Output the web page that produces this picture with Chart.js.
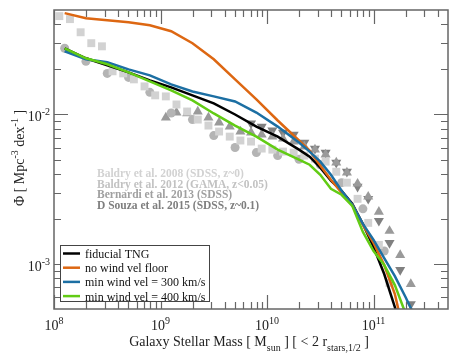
<!DOCTYPE html>
<html>
<head>
<meta charset="utf-8">
<script src="https://cdn.jsdelivr.net/npm/chart.js@4/dist/chart.umd.min.js"></script>
<style>
html, body { margin: 0; padding: 0; background: #fff; }
</style>
</head>
<body>
<canvas id="myChart" width="458" height="354"></canvas>
<script>
// simulation curves: log10 stellar mass, log10 phi
const logMassLines = [8.1, 8.3, 8.5, 8.7, 8.9, 9.1, 9.3, 9.5, 9.7, 9.9, 10.1, 10.3, 10.4, 10.5, 10.6, 10.7, 10.8, 10.9, 11.0, 11.1, 11.2, 11.3, 11.4];
const fiducialTNG = [-1.557, -1.624, -1.671, -1.718, -1.772, -1.819, -1.872, -1.926, -2.0, -2.081, -2.148, -2.235, -2.282, -2.356, -2.443, -2.510, -2.597, -2.732, -2.886, -3.067, -3.289, -3.51, -3.8];
const noWindFloor = [-1.322, -1.356, -1.369, -1.383, -1.403, -1.443, -1.523, -1.631, -1.765, -1.899, -2.040, -2.174, -2.242, -2.342, -2.436, -2.523, -2.604, -2.738, -2.859, -3.007, -3.201, -3.51, -3.8];
const minWind300 = [-1.577, -1.631, -1.651, -1.698, -1.738, -1.799, -1.846, -1.879, -1.913, -1.987, -2.081, -2.188, -2.248, -2.315, -2.403, -2.510, -2.604, -2.732, -2.839, -2.960, -3.081, -3.221, -3.37];
const minWind400 = [-1.557, -1.624, -1.664, -1.718, -1.779, -1.839, -1.906, -1.993, -2.074, -2.148, -2.235, -2.302, -2.336, -2.403, -2.497, -2.537, -2.611, -2.785, -2.913, -3.007, -3.141, -3.33, -3.55];

// observations
const baldry08Mass = [8.05, 8.15, 8.25, 8.35, 8.45, 8.55, 8.65, 8.75, 8.85, 8.95, 9.05, 9.15, 9.25, 9.35, 9.45, 9.55, 9.65, 9.75, 9.85, 9.95, 10.05, 10.15, 10.25, 10.35, 10.45, 10.55, 10.65, 10.75, 10.85, 10.95, 11.05, 11.15];
const baldry08Phi = [-1.342, -1.362, -1.450, -1.523, -1.544, -1.711, -1.725, -1.765, -1.812, -1.872, -1.879, -1.933, -1.98, -2.034, -2.074, -2.114, -2.148, -2.174, -2.181, -2.228, -2.235, -2.248, -2.255, -2.275, -2.295, -2.315, -2.383, -2.456, -2.564, -2.725, -2.872, -3.128];
const baldry12Mass = [8.1, 8.3, 8.5, 8.7, 8.9, 9.1, 9.3, 9.5, 9.7, 9.9, 10.1, 10.3, 10.5, 10.7, 10.9, 11.1];
const baldry12Phi = [-1.557, -1.644, -1.725, -1.752, -1.852, -1.99, -2.034, -2.141, -2.221, -2.255, -2.275, -2.30, -2.336, -2.456, -2.631, -2.913];
const bernardiMass = [9.05, 9.15, 9.25, 9.35, 9.45, 9.55, 9.65, 9.75, 9.85, 9.95, 10.05, 10.15, 10.25, 10.35, 10.45, 10.55, 10.65, 10.75, 10.85, 10.95, 11.05, 11.15, 11.25, 11.35];
const bernardiPhi = [-2.020, -1.987, -1.993, -1.980, -2.020, -2.054, -2.081, -2.114, -2.121, -2.134, -2.148, -2.161, -2.181, -2.215, -2.235, -2.268, -2.322, -2.389, -2.463, -2.550, -2.651, -2.779, -2.940, -3.134];
const dsouzaMass = [9.85, 9.95, 10.05, 10.15, 10.25, 10.35, 10.45, 10.55, 10.65, 10.75, 10.85, 10.95, 11.05, 11.15, 11.25, 11.35];
const dsouzaPhi = [-2.060, -2.081, -2.107, -2.121, -2.134, -2.188, -2.228, -2.255, -2.322, -2.383, -2.483, -2.564, -2.711, -2.859, -3.040, -3.268];

const obsLabels = ['Baldry et al. 2008 (SDSS, z~0)', 'Baldry et al. 2012 (GAMA, z<0.05)', 'Bernardi et al. 2013 (SDSS)', 'D Souza et al. 2015 (SDSS, z~0.1)'];
const obsColors = ['#d2d2d2', '#c2c2c2', '#a0a0a0', '#7e7e7e'];

const xTickExps = [8, 9, 10, 11];
const yTickExps = [-3, -2];

const SERIF = '"Liberation Serif", "DejaVu Serif", serif';

function pts(logx, logy) {
    return logx.map((v, i) => ({x: Math.pow(10, v), y: Math.pow(10, logy[i])}));
}

function lineSet(label, data, color) {
    return {
        label: label, data: pts(logMassLines, data), showLine: true,
        borderColor: color, backgroundColor: color, borderWidth: 2.5,
        pointRadius: 0, order: 1
    };
}

function markerSet(label, mx, my, color, style, r, rot) {
    return {
        label: label, data: pts(mx, my), showLine: false,
        pointStyle: style, pointRadius: r, pointRotation: rot || 0,
        backgroundColor: color, borderColor: color, borderWidth: 0,
        order: 2, isObs: true
    };
}

// text with superscripts / subscripts: parts = [[text, mode]], mode 1 sup, -1 sub
function richWidth(ctx, parts, size, small) {
    let w = 0;
    for (const p of parts) {
        ctx.font = (p[1] ? small : size) + 'px ' + SERIF;
        w += ctx.measureText(p[0]).width;
    }
    return w;
}
function drawRich(ctx, parts, x, y, size, small, up, down) {
    for (const p of parts) {
        ctx.font = (p[1] ? small : size) + 'px ' + SERIF;
        let dy = p[1] === 1 ? -up : (p[1] === -1 ? down : 0);
        ctx.fillText(p[0], x, y + dy);
        x += ctx.measureText(p[0]).width;
    }
}

const framePlugin = {
    id: 'frame',
    afterDraw(chart) {
        const ctx = chart.ctx;
        const a = chart.chartArea;
        const xs = chart.scales.x, ys = chart.scales.y;
        ctx.save();
        ctx.strokeStyle = '#666';
        ctx.lineWidth = 1.5;
        ctx.strokeRect(a.left, a.top, a.right - a.left, a.bottom - a.top);
        ctx.lineWidth = 1.2;
        ctx.beginPath();
        for (let d = 8; d <= 11; d++) {
            for (let m = 1; m <= 9; m++) {
                const v = m * Math.pow(10, d);
                if (v >= xs.max) break;
                const px = Math.round(xs.getPixelForValue(v)) + 0.5;
                const len = m === 1 ? 14 : 7;
                ctx.moveTo(px, a.bottom); ctx.lineTo(px, a.bottom - len);
                ctx.moveTo(px, a.top); ctx.lineTo(px, a.top + len);
            }
        }
        for (let d = -4; d <= -2; d++) {
            for (let m = 1; m <= 9; m++) {
                const v = m * Math.pow(10, d);
                if (v <= ys.min || v >= ys.max) continue;
                const py = Math.round(ys.getPixelForValue(v)) + 0.5;
                const len = m === 1 ? 14 : 7;
                ctx.moveTo(a.left, py); ctx.lineTo(a.left + len, py);
                ctx.moveTo(a.right, py); ctx.lineTo(a.right - len, py);
            }
        }
        ctx.stroke();

        // tick labels
        ctx.fillStyle = '#222';
        ctx.textAlign = 'left';
        ctx.textBaseline = 'alphabetic';
        for (const e of xTickExps) {
            const parts = [['10', 0], [String(e), 1]];
            const w = richWidth(ctx, parts, 14, 10);
            const px = xs.getPixelForValue(Math.pow(10, e));
            drawRich(ctx, parts, px - w / 2, 330, 14, 10, 6, 0);
        }
        for (const e of yTickExps) {
            const parts = [['10', 0], [String(e), 1]];
            const w = richWidth(ctx, parts, 14, 10);
            const py = ys.getPixelForValue(Math.pow(10, e));
            drawRich(ctx, parts, 50 - w, py + 7, 14, 10, 6, 0);
        }

        // axis titles
        const xt = [['Galaxy Stellar Mass [ M', 0], ['sun', -1], [' ] [ < 2 r', 0], ['stars,1/2', -1], [' ]', 0]];
        const xw = richWidth(ctx, xt, 14, 10);
        drawRich(ctx, xt, 249 - xw / 2, 346, 14, 10, 6, 5);
        const yt = [['\u03A6 [ Mpc', 0], ['-3', 1], [' dex', 0], ['-1', 1], [' ]', 0]];
        const yw = richWidth(ctx, yt, 14, 10);
        ctx.save();
        ctx.translate(24, 158);
        ctx.rotate(-Math.PI / 2);
        drawRich(ctx, yt, -yw / 2, 0, 14, 10, 6, 0);
        ctx.restore();

        // observation labels
        ctx.font = 'bold 11.5px ' + SERIF;
        obsLabels.forEach((t, i) => {
            ctx.fillStyle = obsColors[i];
            ctx.fillText(t, 97, 177 + i * 10.6);
        });

        // legend
        const lx = 60.5, ly = 245.5, lw = 149, lh = 56;
        ctx.fillStyle = '#fff';
        ctx.fillRect(lx, ly, lw, lh);
        ctx.strokeStyle = '#444';
        ctx.lineWidth = 1;
        ctx.strokeRect(lx, ly, lw, lh);
        ctx.font = '12px ' + SERIF;
        const lines = chart.data.datasets.filter(ds => !ds.isObs);
        lines.forEach((ds, i) => {
            const yy = 253.5 + i * 14.2;
            ctx.strokeStyle = ds.borderColor;
            ctx.lineWidth = 2.5;
            ctx.beginPath();
            ctx.moveTo(63, yy); ctx.lineTo(80, yy);
            ctx.stroke();
            ctx.fillStyle = '#111';
            ctx.fillText(ds.label, 85, yy + 4.5);
        });
        ctx.restore();
    }
};

const config = {
    type: 'scatter',
    data: {
        datasets: [
            lineSet('fiducial TNG', fiducialTNG, '#000000'),
            lineSet('no wind vel floor', noWindFloor, '#dd6712'),
            lineSet('min wind vel = 300 km/s', minWind300, '#1c6fa3'),
            lineSet('min wind vel = 400 km/s', minWind400, '#62cc14'),
            markerSet(obsLabels[0], baldry08Mass, baldry08Phi, '#d2d2d2', 'rect', 5.6),
            markerSet(obsLabels[1], baldry12Mass, baldry12Phi, '#b4b4b4', 'circle', 4.5),
            markerSet(obsLabels[2], bernardiMass, bernardiPhi, '#9a9a9a', 'triangle', 5.8),
            markerSet(obsLabels[3], dsouzaMass, dsouzaPhi, '#808080', 'triangle', 5.8, 180)
        ].map((d, i) => i < 4 ? Object.assign(d, {order: 1 + (3 - i) * 0.1}) : d)
    },
    options: {
        responsive: false,
        devicePixelRatio: 1,
        animation: false,
        layout: { padding: { left: 54, right: 10, top: 10, bottom: 45 } },
        plugins: { legend: { display: false }, tooltip: { enabled: false } },
        scales: {
            x: { type: 'logarithmic', min: 1e8, max: 5e11, display: false },
            y: { type: 'logarithmic', min: 5e-4, max: 5e-2, display: false }
        }
    },
    plugins: [framePlugin]
};

const myChart = new Chart(document.getElementById('myChart'), config);
</script>
</body>
</html>
